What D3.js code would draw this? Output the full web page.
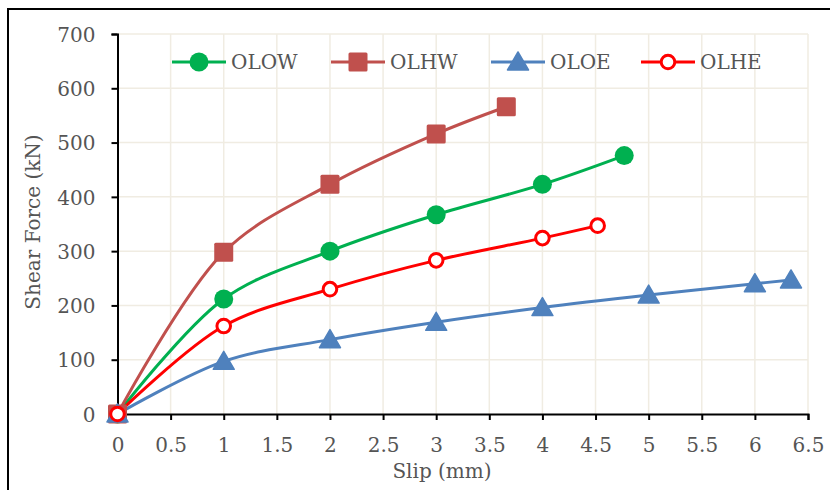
<!DOCTYPE html>
<html><head><meta charset="utf-8">
<script src="https://cdn.jsdelivr.net/npm/d3@7"></script>
<style>body{margin:0;background:#fff}svg{display:block}</style>
</head><body>
<svg id="c" width="830" height="490"></svg>
<script>
const xTicks = [0,0.5,1,1.5,2,2.5,3,3.5,4,4.5,5,5.5,6,6.5];
const yTicks = [0,100,200,300,400,500,600,700];
const olowX = [0,1,2,3,4,4.77];
const olowY = [0,212,300,367,423,476];
const olhwX = [0,1,2,3,3.66];
const olhwY = [0,298,423,516,566];
const oloeX = [0,1,2,3,4,5,6,6.34];
const oloeY = [0,97,137,169,196,219,240,247];
const olheX = [0,1,2,3,4,4.52];
const olheY = [0,162,230,283,324,347];
const seriesNames = ["OLOW","OLHW","OLOE","OLHE"];

const series = [
  {name:"OLOW", xs:olowX, ys:olowY, color:"#00B050", marker:"circle"},
  {name:"OLHW", xs:olhwX, ys:olhwY, color:"#C0504D", marker:"square"},
  {name:"OLOE", xs:oloeX, ys:oloeY, color:"#4F81BD", marker:"triangle"},
  {name:"OLHE", xs:olheX, ys:olheY, color:"#FF0000", marker:"open"}
];

const svg = d3.select("#c");
const font = "'DejaVu Serif', serif";
const textCol = "#555555";
const x = d3.scaleLinear().domain([0,6.5]).range([117.5,808]);
const y = d3.scaleLinear().domain([0,700]).range([414,34]);

// outer frame
svg.append("rect").attr("x",8).attr("y",9).attr("width",840).attr("height",500)
  .attr("fill","none").attr("stroke","#000").attr("stroke-width",2);

// gridlines
const grid = svg.append("g");
grid.selectAll("line.v").data(xTicks.slice(1)).enter().append("line")
  .attr("x1",d=>x(d)).attr("x2",d=>x(d)).attr("y1",y(0)).attr("y2",y(700))
  .attr("stroke","#F0ECE2").attr("stroke-width",1.5);
grid.selectAll("line.h").data(yTicks.slice(1)).enter().append("line")
  .attr("x1",x(0)).attr("x2",x(6.5)).attr("y1",d=>y(d)).attr("y2",d=>y(d))
  .attr("stroke","#F0ECE2").attr("stroke-width",1.5);

// axes
const xAxis = svg.append("g").attr("transform",`translate(0,${y(0)})`)
  .call(d3.axisBottom(x).tickValues(xTicks).tickSize(6).tickPadding(18).tickFormat(d=>String(d)));
const yAxis = svg.append("g").attr("transform",`translate(${x(0)},0)`)
  .call(d3.axisLeft(y).tickValues(yTicks).tickSize(6).tickPadding(16).tickFormat(d=>String(d)));
[xAxis,yAxis].forEach(a=>{
  a.select(".domain").attr("stroke","#000").attr("stroke-width",2);
  a.selectAll(".tick line").attr("stroke","#000").attr("stroke-width",2);
  a.selectAll(".tick text").attr("fill",textCol).attr("font-family",font).attr("font-size",20);
});
yAxis.selectAll(".tick text").attr("dy","0.36em");

// axis titles
svg.append("text").attr("x",442).attr("y",478).attr("text-anchor","middle")
  .attr("font-family",font).attr("font-size",20).attr("fill",textCol).text("Slip (mm)");
svg.append("text").attr("transform","translate(40,222) rotate(-90)").attr("text-anchor","middle")
  .attr("font-family",font).attr("font-size",20).attr("fill",textCol).text("Shear Force (kN)");

function drawMarker(g, type, color, cx, cy){
  if(type==="circle") g.append("circle").attr("cx",cx).attr("cy",cy).attr("r",9.5).attr("fill",color);
  else if(type==="square") g.append("rect").attr("x",cx-9.5).attr("y",cy-9.5).attr("width",19).attr("height",19).attr("rx",1.5).attr("fill",color);
  else if(type==="triangle") g.append("path").attr("d",`M${cx},${cy-10}L${cx+10.5},${cy+8}L${cx-10.5},${cy+8}Z`).attr("fill",color).attr("stroke",color).attr("stroke-width",1.5).attr("stroke-linejoin","round");
  else g.append("circle").attr("cx",cx).attr("cy",cy).attr("r",6.8).attr("fill","#fff").attr("stroke",color).attr("stroke-width",3);
}

const line = d3.line().x(d=>x(d[0])).y(d=>y(d[1])).curve(d3.curveCatmullRom.alpha(0.5));
const plot = svg.append("g");
series.forEach(s=>{
  const pts = s.xs.map((v,i)=>[v,s.ys[i]]);
  plot.append("path").datum(pts).attr("d",line).attr("fill","none")
    .attr("stroke",s.color).attr("stroke-width",3).attr("stroke-linejoin","round");
});
series.forEach(s=>{
  const g = plot.append("g");
  s.xs.forEach((v,i)=>drawMarker(g,s.marker,s.color,x(v),y(s.ys[i])));
});

// legend
const legX = [172,331,491,641];
series.forEach((s,i)=>{
  const g = svg.append("g");
  const lx = legX[i], ly = 62;
  g.append("line").attr("x1",lx).attr("x2",lx+54).attr("y1",ly).attr("y2",ly)
    .attr("stroke",s.color).attr("stroke-width",3);
  drawMarker(g,s.marker,s.color,lx+27,ly);
  g.append("text").attr("x",lx+59).attr("y",ly).attr("dy","0.36em")
    .attr("font-family",font).attr("font-size",20).attr("fill",textCol).text(seriesNames[i]);
});
</script>
</body></html>
